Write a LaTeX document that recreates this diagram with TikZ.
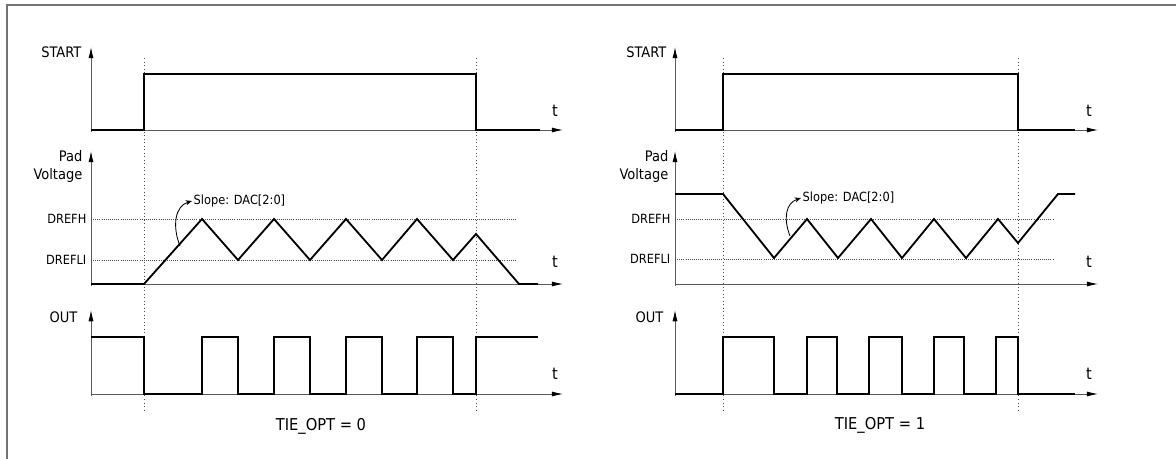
\documentclass[tikz,border=0pt]{standalone}
\usepackage{fontspec}
\setmainfont{DejaVu Sans Condensed}
\usepackage{tikz}
\usetikzlibrary{arrows.meta, positioning}

\begin{document}
\begin{tikzpicture}[
        x=0.025cm, y=-0.025cm,
        sigaxis/.style = {draw=black!65, line width=0.6pt, -{Latex[length=8pt, width=3.6pt, color=black]}},
        wave/.style = {draw=black, line width=1.3pt, line join=miter},
        guideline/.style = {draw=black!70, line width=0.5pt, dotted},
        reflevel/.style = {draw=black!70, line width=0.5pt, densely dotted},
        signame/.style = {anchor=east, font=\fontsize{10.3}{12.8}\selectfont, align=right, inner sep=1pt},
        reflabel/.style = {anchor=east, font=\fontsize{9}{10}\selectfont, inner sep=1pt},
        tlabel/.style = {font=\fontsize{11.5}{12}\selectfont, inner sep=0pt},
        optcaption/.style = {font=\fontsize{11.6}{14}\selectfont, inner sep=0pt},
        slopetext/.style = {anchor=west, font=\fontsize{9}{10}\selectfont, inner sep=1pt},
        slopearrow/.style = {draw=black, line width=0.6pt, -{Stealth[length=4.5pt, width=3.6pt]}}
    ]

    \useasboundingbox (0,0) rectangle (1176,459);

    % --- KHUNG ---
    \draw[black!55, line width=1.4pt] (7,459) -- (7,5) -- (1176,5);

    % --- PANEL TRAI: TIE_OPT = 0 ---

    % truc toa do
    \draw[sigaxis] (91,132) -- (91,47);
    \draw[sigaxis] (91,130) -- (563,130);
    \draw[sigaxis] (91,286) -- (91,151);
    \draw[sigaxis] (91,284) -- (563,284);
    \draw[sigaxis] (91,396) -- (91,310);
    \draw[sigaxis] (91,394) -- (563,394);

    % nhan
    \node[signame] (startL) at (83,52) {START};
    \node[signame] (padL) at (84,167) {Pad\\Voltage};
    \node[signame] (outL) at (79,317) {OUT};
    \node[reflabel] (drefhL) at (88,219) {DREFH};
    \node[reflabel] (dreflL) at (88,260) {DREFLI};
    \node[tlabel] (t1L) at (555,111) {t};
    \node[tlabel] (t2L) at (555,262) {t};
    \node[tlabel] (t3L) at (555,374) {t};

    % duong gioi han
    \draw[guideline] (144,58) -- (144,412);
    \draw[guideline] (476,58) -- (476,412);
    \draw[reflevel] (91,219) -- (516,219);
    \draw[reflevel] (91,260) -- (516,260);

    % tin hieu
    \draw[wave] (91,130) -- (144,130) -- (144,74) -- (476,74) -- (476,130) -- (540,130);
    \draw[wave] (91,284) -- (144,284) -- (202,219) -- (238,260) -- (274,219) -- (310,260)
        -- (346,219) -- (382,260) -- (417,219) -- (453,260) -- (476,234) -- (519,284) -- (538,284);
    \draw[wave] (91,337) -- (144,337) -- (144,394) -- (202,394) -- (202,337) -- (238,337)
        -- (238,394) -- (274,394) -- (274,337) -- (310,337) -- (310,394) -- (346,394)
        -- (346,337) -- (382,337) -- (382,394) -- (417,394) -- (417,337) -- (453,337)
        -- (453,394) -- (476,394) -- (476,337) -- (538,337);

    % do doc
    \node[slopetext] (slopeL) at (192,201) {Slope: DAC[2:0]};
    \coordinate (rampL) at (180,246);
    \draw[slopearrow] (rampL) .. controls (172,226) and (175,206) .. (slopeL.west);

    \node[optcaption] (optL) at (321,426) {TIE\_OPT = 0};

    % --- PANEL PHAI: TIE_OPT = 1 ---

    % truc toa do
    \draw[sigaxis] (675,132) -- (675,47);
    \draw[sigaxis] (675,130) -- (1098,130);
    \draw[sigaxis] (675,286) -- (675,151);
    \draw[sigaxis] (675,284) -- (1098,284);
    \draw[sigaxis] (675,396) -- (675,310);
    \draw[sigaxis] (675,394) -- (1098,394);

    % nhan
    \node[signame] (startR) at (668,52) {START};
    \node[signame] (padR) at (670,167) {Pad\\Voltage};
    \node[signame] (outR) at (665,317) {OUT};
    \node[reflabel] (drefhR) at (672,219) {DREFH};
    \node[reflabel] (dreflR) at (672,259) {DREFLI};
    \node[tlabel] (t1R) at (1089,111) {t};
    \node[tlabel] (t2R) at (1089,262) {t};
    \node[tlabel] (t3R) at (1089,374) {t};

    % duong gioi han
    \draw[guideline] (723,58) -- (723,412);
    \draw[guideline] (1018,58) -- (1018,412);
    \draw[reflevel] (675,219) -- (1054,219);
    \draw[reflevel] (675,259) -- (1054,259);

    % tin hieu
    \draw[wave] (675,130) -- (723,130) -- (723,74) -- (1018,74) -- (1018,130) -- (1075,130);
    \draw[wave] (675,194) -- (723,194) -- (774,258) -- (807,219) -- (838,258) -- (871,219)
        -- (902,258) -- (934,219) -- (966,258) -- (998,219) -- (1018,243) -- (1058,194) -- (1075,194);
    \draw[wave] (675,394) -- (723,394) -- (723,337) -- (774,337) -- (774,394) -- (807,394)
        -- (807,337) -- (837,337) -- (837,394) -- (869,394) -- (869,337) -- (902,337)
        -- (902,394) -- (934,394) -- (934,337) -- (964,337) -- (964,394) -- (996,394)
        -- (996,337) -- (1018,337) -- (1018,394) -- (1075,394);

    % do doc
    \node[slopetext] (slopeR) at (801,198) {Slope: DAC[2:0]};
    \coordinate (rampR) at (790,236);
    \draw[slopearrow] (rampR) .. controls (783,218) and (786,203) .. (slopeR.west);

    \node[optcaption] (optR) at (880,425) {TIE\_OPT = 1};

\end{tikzpicture}
\end{document}
